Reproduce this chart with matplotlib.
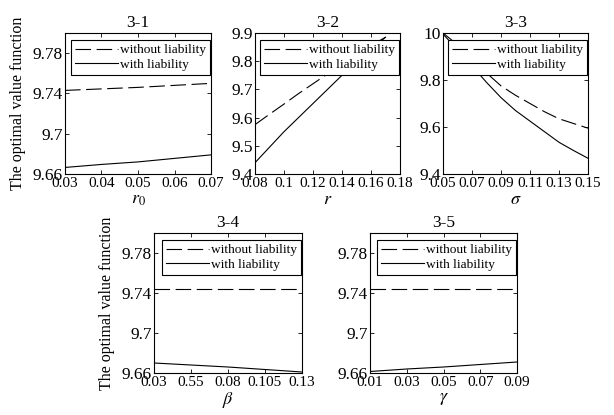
import matplotlib
matplotlib.use("Agg")
import matplotlib.pyplot as plt

# panel 3-1 : r0
r0 = [0.03, 0.04, 0.05, 0.06, 0.07]
r0_without = [9.743, 9.7445, 9.746, 9.748, 9.750]
r0_with = [9.6665, 9.6695, 9.672, 9.6755, 9.679]

# panel 3-2 : r
r = [0.08, 0.09, 0.10, 0.11, 0.12, 0.13, 0.14, 0.15, 0.16, 0.17]
r_without = [9.575, 9.612, 9.648, 9.685, 9.72, 9.755, 9.79, 9.822, 9.855, 9.885]
r_with = [9.44, 9.495, 9.55, 9.60, 9.65, 9.70, 9.75, 9.795, 9.84, 9.885]

# panel 3-3 : sigma
sigma = [0.05, 0.06, 0.07, 0.08, 0.09, 0.10, 0.11, 0.12, 0.13, 0.14, 0.15]
sigma_without = [10.0, 9.95, 9.89, 9.83, 9.775, 9.735, 9.70, 9.665, 9.635, 9.615, 9.595]
sigma_with = [9.995, 9.93, 9.86, 9.79, 9.725, 9.67, 9.625, 9.58, 9.535, 9.50, 9.467]

# panel 3-4 : beta
beta = [0.03, 0.055, 0.08, 0.105, 0.13]
beta_without = [9.744, 9.744, 9.744, 9.744, 9.744]
beta_with = [9.670, 9.668, 9.666, 9.6635, 9.661]

# panel 3-5 : gamma
gamma = [0.01, 0.03, 0.05, 0.07, 0.09]
gamma_without = [9.744, 9.744, 9.744, 9.744, 9.744]
gamma_with = [9.6615, 9.664, 9.666, 9.6685, 9.671]

plt.rcParams["font.family"] = ["Liberation Serif", "DejaVu Serif"]
plt.rcParams["mathtext.fontset"] = "stix"

W, H = 614, 415
fig = plt.figure(figsize=(W / 100, H / 100), dpi=100)


def px_rect(x0, y0, x1, y1):
    return [x0 / W, 1 - y1 / H, (x1 - x0) / W, (y1 - y0) / H]


def panel(rect, title, x, y_without, y_with, xlim, ylim, xticks, xticklabels,
          yticks, yticklabels, xlabel, ylabel=None):
    ax = fig.add_axes(px_rect(*rect))
    ax.plot(x, y_without, color="black", lw=0.8, linestyle=(0, (14, 5)),
            label="without liability")
    ax.plot(x, y_with, color="black", lw=0.8, label="with liability")
    ax.set_xlim(*xlim)
    ax.set_ylim(*ylim)
    ax.set_xticks(xticks)
    ax.set_xticklabels(xticklabels)
    ax.set_yticks(yticks)
    ax.set_yticklabels(yticklabels)
    ax.tick_params(direction="in", top=True, right=True, length=3, width=0.6,
                   pad=2)
    ax.tick_params(axis="x", labelsize=11)
    ax.tick_params(axis="y", labelsize=12.5, pad=1.5)
    for s in ax.spines.values():
        s.set_linewidth(0.8)
    ax.set_title(title, fontsize=12.5, pad=4)
    ax.set_xlabel(xlabel, fontsize=13, labelpad=1)
    if ylabel:
        ax.set_ylabel(ylabel, fontsize=11.5, labelpad=5)
    leg = ax.legend(loc="upper right", bbox_to_anchor=(0.995, 0.95),
                    borderaxespad=0, fontsize=9.6, fancybox=False,
                    framealpha=1, edgecolor="black", borderpad=0.3,
                    handlelength=3.2, handletextpad=0.15, labelspacing=0.15)
    leg.get_frame().set_linewidth(0.8)
    return ax


low_ticks = [9.66, 9.7, 9.74, 9.78]
low_labels = ["9.66", "9.7", "9.74", "9.78"]

panel((65, 33, 211, 174), "3-1", r0, r0_without, r0_with,
      (0.03, 0.07), (9.66, 9.8), r0, ["0.03", "0.04", "0.05", "0.06", "0.07"],
      low_ticks, low_labels, r"$r_0$", "The optimal value function")

panel((255, 33, 400, 174), "3-2", r, r_without, r_with,
      (0.08, 0.18), (9.4, 9.9), [0.08, 0.10, 0.12, 0.14, 0.16, 0.18],
      ["0.08", "0.1", "0.12", "0.14", "0.16", "0.18"],
      [9.4, 9.5, 9.6, 9.7, 9.8, 9.9], ["9.4", "9.5", "9.6", "9.7", "9.8", "9.9"],
      r"$r$")

panel((443, 33, 588, 174), "3-3", sigma, sigma_without, sigma_with,
      (0.05, 0.15), (9.4, 10.0), [0.05, 0.07, 0.09, 0.11, 0.13, 0.15],
      ["0.05", "0.07", "0.09", "0.11", "0.13", "0.15"],
      [9.4, 9.6, 9.8, 10.0], ["9.4", "9.6", "9.8", "10"], r"$\sigma$")

panel((154, 233, 302, 373), "3-4", beta, beta_without, beta_with,
      (0.03, 0.13), (9.66, 9.8), beta, ["0.03", "0.55", "0.08", "0.105", "0.13"],
      low_ticks, low_labels, r"$\beta$", "The optimal value function")

panel((370, 233, 517, 373), "3-5", gamma, gamma_without, gamma_with,
      (0.01, 0.09), (9.66, 9.8), gamma, ["0.01", "0.03", "0.05", "0.07", "0.09"],
      low_ticks, low_labels, r"$\gamma$")

fig.savefig("out.png", dpi=100)
